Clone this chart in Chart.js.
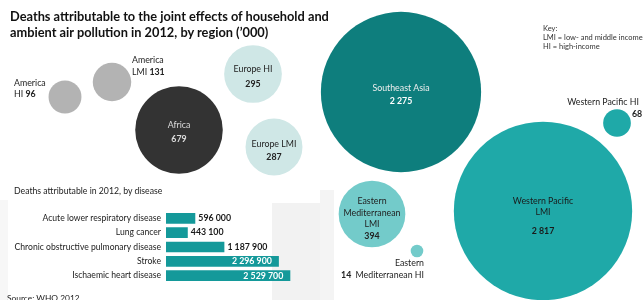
<!DOCTYPE html>
<html>
<head>
<meta charset="utf-8">
<script src="https://cdn.jsdelivr.net/npm/chart.js@4/dist/chart.umd.min.js"></script>
<style>
  body { margin: 0; background: #fff; }
  #wrap { position: relative; width: 643px; height: 300px; overflow: hidden; font-family: Lato, sans-serif; color: #1a1a1a; }
  .haze { position: absolute; background: #f2f2f2; }
  #title { position: absolute; left: 10px; top: 8px; font-weight: bold; font-size: 12.8px; line-height: 16px; color: #111; }
  #key { position: absolute; left: 543px; top: 24px; font-size: 7.5px; line-height: 9px; color: #333; }
  #subtitle { position: absolute; left: 14px; top: 185px; font-size: 8.7px; color: #222; }
  #source { position: absolute; left: 7px; top: 293px; font-size: 8.4px; color: #222; }
  #bubbles { position: absolute; left: 0; top: 0; }
  #bars { position: absolute; left: 0; top: 201px; }
</style>
</head>
<body>
<div id="wrap">
  <div class="haze" style="left:272px;top:203px;width:52px;height:97px;"></div>
  <div class="haze" style="left:0;top:200px;width:8px;height:100px;background:#f7f7f7;"></div>
  <div class="haze" style="left:320px;top:190px;width:14px;height:110px;background:#f4f4f4;"></div>
  <canvas id="bubbles" width="643" height="300"></canvas>
  <div id="title">Deaths attributable to the joint effects of household and<br>ambient air pollution in 2012, by region (’000)</div>
  <div id="key">Key:<br>LMI = low- and middle income<br>HI = high-income</div>
  <div id="subtitle">Deaths attributable in 2012, by disease</div>
  <canvas id="bars" width="338" height="92"></canvas>
  <div id="source">Source: WHO 2012</div>
</div>
<script>
// regions, deaths in thousands
let regions = [
  "America HI", "America LMI", "Africa", "Europe HI", "Europe LMI",
  "Southeast Asia", "Western Pacific HI", "Western Pacific LMI",
  "Eastern Mediterranean LMI", "Eastern Mediterranean HI",
];
let deathsRegion = [96, 131, 679, 295, 287, 2275, 68, 2817, 394, 14];

// diseases
let causes = [
  "Acute lower respiratory disease",
  "Lung cancer",
  "Chronic obstructive pulmonary disease",
  "Stroke",
  "Ischaemic heart disease",
];
let deathsCause = [596000, 443100, 1187900, 2296900, 2529700];

// where each bubble sits in the packed layout (page pixels)
let posX = [65, 112, 179, 253, 274, 401, 617, 543, 372, 417];
let posY = [97, 82, 130, 74, 147, 92, 123, 211, 214, 251];

let colores = ["#b3b3b3", "#b3b3b3", "#333333", "#cfe7e6", "#cfe7e6",
  "#0e7e7d", "#1fa9a8", "#1fa9a8", "#73cbca", "#73cbca"];

const fmt = (v) => String(v).replace(/\B(?=(\d{3})+(?!\d))/g, " ");

// label lines per bubble: [dx, dy, align, color, [[text, bold], ...]]
function labelsFor(i) {
  let v = fmt(deathsRegion[i]);
  switch (i) {
    case 0: return [[-51, -14, "left", "#222", [["America", 0]]], [-51, -3, "left", "#222", [["HI ", 0], [v, 1]]]];
    case 1: return [[20, -22, "left", "#222", [["America", 0]]], [20, -10, "left", "#222", [["LMI ", 0], [v, 1]]]];
    case 2: return [[0, -5, "center", "#ddd", [["Africa", 0]]], [0, 9, "center", "#ddd", [[v, 1]]]];
    case 3: return [[0, -5, "center", "#222", [["Europe HI", 0]]], [0, 10, "center", "#222", [[v, 1]]]];
    case 4: return [[0, -3, "center", "#222", [["Europe LMI", 0]]], [0, 10, "center", "#222", [[v, 1]]]];
    case 5: return [[0, -4, "center", "#eee", [["Southeast Asia", 0]]], [0, 9, "center", "#fff", [[v, 1]]]];
    case 6: return [[-14, -21, "center", "#222", [["Western Pacific HI", 0]]], [15, -9, "left", "#222", [[v, 1]]]];
    case 7: return [[0, -10, "center", "#1a1a1a", [["Western Pacific", 0]]], [0, 1, "center", "#1a1a1a", [["LMI", 0]]], [0, 20, "center", "#1a1a1a", [[v, 1]]]];
    case 8: return [[0, -12.5, "center", "#222", [["Eastern", 0]]], [0, -1, "center", "#222", [["Mediterranean", 0]]], [0, 10.5, "center", "#222", [["LMI", 0]]], [0, 22, "center", "#222", [[v, 1]]]];
    case 9: return [[7, 12, "right", "#222", [["Eastern", 0]]], [7, 24, "right", "#222", [[v + "  ", 1], ["Mediterranean HI", 0]]]];
  }
  return [];
}

const bubbleLabels = {
  id: "bubbleLabels",
  afterDatasetsDraw(chart) {
    let ctx = chart.ctx;
    let meta = chart.getDatasetMeta(0);
    ctx.save();
    ctx.textBaseline = "middle";
    meta.data.forEach((pt, i) => {
      labelsFor(i).forEach(([dx, dy, align, color, segs]) => {
        let widths = segs.map(([t, b]) => {
          ctx.font = (b ? "bold " : "") + "8.8px Lato";
          return ctx.measureText(t).width;
        });
        let total = widths.reduce((a, b) => a + b, 0);
        let x = pt.x + dx;
        if (align == "center") x -= total / 2;
        if (align == "right") x -= total;
        ctx.fillStyle = color;
        ctx.textAlign = "left";
        segs.forEach(([t, b], k) => {
          ctx.font = (b ? "bold " : "") + "8.8px Lato";
          ctx.fillText(t, x, pt.y + dy);
          x += widths[k];
        });
      });
    });
    ctx.restore();
  },
};

new Chart("bubbles", {
  type: "bubble",
  data: {
    datasets: [{
      data: deathsRegion.map((v, i) => ({ x: posX[i], y: posY[i], r: 1.68 * Math.sqrt(v) })),
      backgroundColor: colores,
      borderWidth: 0,
      clip: false,
    }],
  },
  options: {
    responsive: false,
    animation: false,
    events: [],
    layout: { padding: 0, autoPadding: false },
    plugins: { legend: { display: false }, tooltip: { enabled: false } },
    scales: {
      x: { type: "linear", min: 0, max: 643, display: false },
      y: { type: "linear", min: 0, max: 300, reverse: true, display: false },
    },
  },
  plugins: [bubbleLabels],
});

const barValues = {
  id: "barValues",
  afterDatasetsDraw(chart) {
    let ctx = chart.ctx;
    let meta = chart.getDatasetMeta(0);
    ctx.save();
    ctx.font = "bold 8.8px Lato";
    ctx.textBaseline = "middle";
    meta.data.forEach((bar, i) => {
      let txt = fmt(deathsCause[i]);
      if (bar.x - bar.base > 90) {
        ctx.fillStyle = "#fff";
        ctx.textAlign = "right";
        ctx.fillText(txt, bar.x - 7, bar.y);
      } else {
        ctx.fillStyle = "#1a1a1a";
        ctx.textAlign = "left";
        ctx.fillText(txt, bar.x + 3, bar.y);
      }
    });
    ctx.restore();
  },
};

new Chart("bars", {
  type: "bar",
  data: {
    labels: causes,
    datasets: [{ data: deathsCause, backgroundColor: "#14999a", barPercentage: 0.74, categoryPercentage: 1 }],
  },
  options: {
    indexAxis: "y",
    responsive: false,
    animation: false,
    events: [],
    layout: { padding: 0, autoPadding: false },
    plugins: { legend: { display: false }, tooltip: { enabled: false } },
    scales: {
      x: { min: 0, max: 3500000, display: false },
      y: {
        afterFit: (s) => { s.width = 166; },
        grid: { display: false, drawTicks: false },
        border: { display: false },
        ticks: { color: "#222", padding: 5, font: { family: "Lato", size: 8.6 } },
      },
    },
  },
  plugins: [barValues],
});
</script>
</body>
</html>
